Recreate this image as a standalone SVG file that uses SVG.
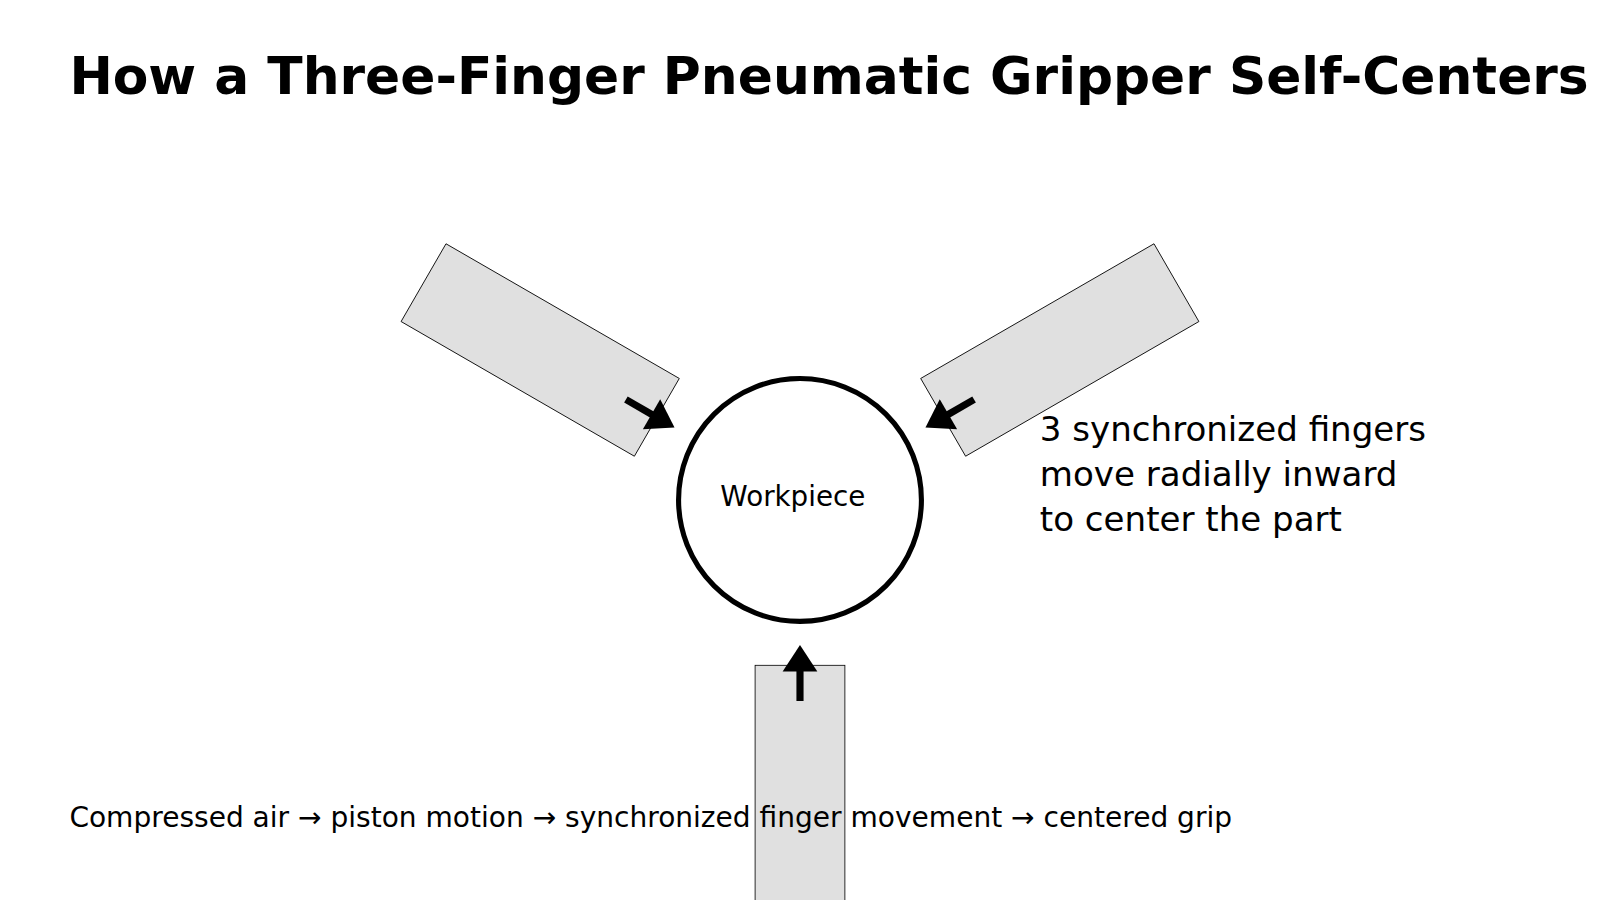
<svg xmlns="http://www.w3.org/2000/svg" width="1600" height="900" viewBox="0 0 1600 900">
<style>
.finger{fill:#e0e0e0;stroke:#000;stroke-width:0.8}
.arr{stroke:#000;stroke-width:7}
.t{font-family:"DejaVu Sans",sans-serif;fill:#000}
</style>
<defs>
<g id="arrowShape"><line class="arr" x1="784" y1="687" x2="784" y2="652"/><polygon points="784,632 767,658 801,658" fill="#000"/></g>
</defs>
<rect width="1600" height="900" fill="#fff"/>
<g transform="scale(1.0204)">
<text class="t" x="68" y="92" font-size="50.8" font-weight="bold">How a Three-Finger Pneumatic Gripper Self-Centers</text>
<g id="finger-left" transform="rotate(120 784 490)"><rect class="finger" x="740" y="652" width="88" height="264"/></g>
<g id="finger-right" transform="rotate(240 784 490)"><rect class="finger" x="740" y="652" width="88" height="264"/></g>
<g id="finger-bottom"><rect class="finger" x="740" y="652" width="88" height="264"/></g>
<g id="workpiece"><circle cx="784" cy="490" r="119" fill="#fff" stroke="#000" stroke-width="5"/><text class="t" x="777" y="496" font-size="27.2" text-anchor="middle">Workpiece</text></g>
<g id="connectors">
<use href="#arrowShape"/>
<use href="#arrowShape" transform="rotate(120 784 490)"/>
<use href="#arrowShape" transform="rotate(240 784 490)"/>
</g>
<g id="note"><text class="t" font-size="33.4"><tspan x="1019" y="432">3 synchronized fingers</tspan><tspan x="1019" y="476">move radially inward</tspan><tspan x="1019" y="520">to center the part</tspan></text></g>
<text class="t" x="68" y="810" font-size="27.5">Compressed air → piston motion → synchronized finger movement → centered grip</text>
</g>
</svg>
